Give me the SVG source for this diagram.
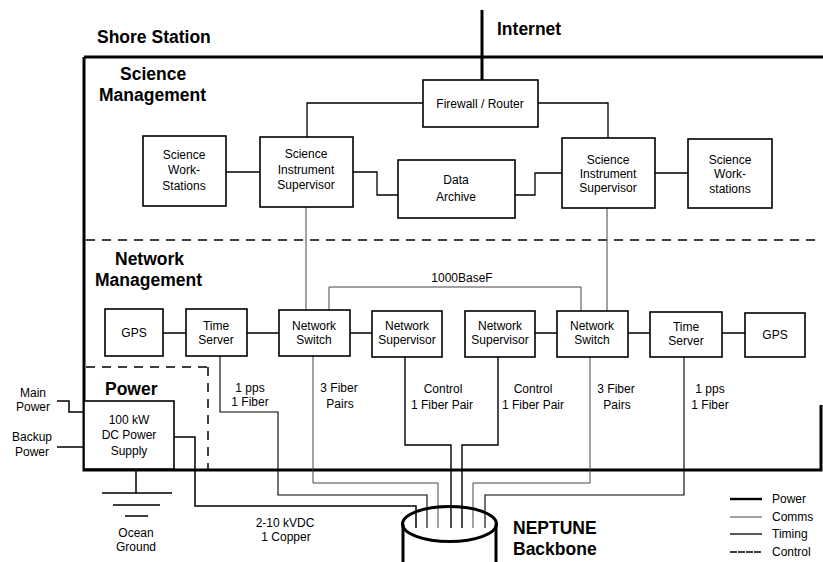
<svg xmlns="http://www.w3.org/2000/svg" width="823" height="562" viewBox="0 0 823 562">
<style>
text{font-family:"Liberation Sans",Arial,sans-serif;fill:#000}
.t{font-size:12px;text-anchor:middle}
.l{font-size:12px}
.h{font-size:17.5px;font-weight:bold}
.box{fill:#fff;stroke:#000;stroke-width:1.6}
.frame{fill:none;stroke:#000;stroke-width:3}
.sep{fill:none;stroke:#000;stroke-width:1.5;stroke-dasharray:9 7}
.link{fill:none;stroke:#000;stroke-width:1.3}
.power{fill:none;stroke:#000;stroke-width:1.5}
.comms{fill:none;stroke:#444;stroke-width:1}
.timing{fill:none;stroke:#000;stroke-width:1.1}
.control{fill:none;stroke:#000;stroke-width:1.4}
</style>
<rect width="823" height="562" fill="#fff"/>

<g id="frame">
<path class="frame" d="M84,57 H823 M84,57 V470 H821 V405"/>
<path class="frame" d="M482,10 V80"/>
<path class="sep" d="M86,240 H818"/>
<path class="sep" d="M86,367 H210 M208,367 V470"/>
<text class="h" x="97" y="43">Shore Station</text>
<text class="h" x="497" y="35">Internet</text>
<text class="h" x="120" y="80">Science</text>
<text class="h" x="99" y="101">Management</text>
<text class="h" x="115" y="265">Network</text>
<text class="h" x="95" y="286">Management</text>
<text class="h" x="105" y="395">Power</text>
</g>

<g id="connectors">
<path class="link" d="M423,103 H307 V137"/>
<path class="link" d="M538,103 H608 V138"/>
<path class="link" d="M226,172 H260"/>
<path class="link" d="M353,172 H377 V195 H398"/>
<path class="link" d="M515,195 H535 V173 H562"/>
<path class="link" d="M655,173 H688"/>
<path class="comms" d="M306,207 V310"/>
<path class="comms" d="M607,208 V311"/>
<path class="comms" d="M329,310 V287 H581 V311"/>
<path class="link" d="M163,333 H186 M247,333 H279 M350,333 H372 M535,333 H557 M628,333 H650 M722,333 H745"/>
<path class="timing" d="M220,356 V412 H278 V495 H427 V528"/>
<path class="comms" d="M313,356 V483 H438 V528"/>
<path class="power" d="M174,437 H195 V506 H416 V528"/>
<path class="control" d="M405,356 V445 H451 V528"/>
<path class="control" d="M498,357 V445 H462 V528"/>
<path class="comms" d="M590,357 V483 H473 V528"/>
<path class="timing" d="M684,357 V495 H485 V528"/>
<path class="power" d="M57,401 H69 V412 H84"/>
<path class="power" d="M57,447 H84"/>
<path class="power" d="M136,470 V493 M102,493 H172 M113,505 H160 M125,516 H148"/>
<text class="t" x="462" y="282">1000BaseF</text>
<text class="t" x="250" y="392">1 pps</text>
<text class="t" x="250" y="406">1 Fiber</text>
<text class="t" x="339" y="392">3 Fiber</text>
<text class="t" x="340" y="408">Pairs</text>
<text class="t" x="443" y="393">Control</text>
<text class="t" x="442" y="409">1 Fiber Pair</text>
<text class="t" x="533" y="393">Control</text>
<text class="t" x="533" y="409">1 Fiber Pair</text>
<text class="t" x="616" y="393">3 Fiber</text>
<text class="t" x="617" y="409">Pairs</text>
<text class="t" x="710" y="393">1 pps</text>
<text class="t" x="710" y="409">1 Fiber</text>
<text class="t" x="285" y="527">2-10 kVDC</text>
<text class="t" x="286" y="541">1 Copper</text>
<text class="t" x="33" y="397">Main</text>
<text class="t" x="33" y="411">Power</text>
<text class="t" x="32" y="441">Backup</text>
<text class="t" x="32" y="456">Power</text>
<text class="t" x="136" y="537">Ocean</text>
<text class="t" x="136" y="551">Ground</text>
</g>

<g id="firewall"><rect class="box" x="423" y="80" width="115" height="47"/><text class="t" x="480" y="108">Firewall / Router</text></g>
<g id="sws-left"><rect class="box" x="143" y="136" width="83" height="70"/><text class="t" x="184" y="159">Science</text><text class="t" x="184" y="174">Work-</text><text class="t" x="184" y="190">Stations</text></g>
<g id="sis-left"><rect class="box" x="260" y="137" width="93" height="70"/><text class="t" x="306" y="158">Science</text><text class="t" x="306" y="174">Instrument</text><text class="t" x="306" y="189">Supervisor</text></g>
<g id="archive"><rect class="box" x="398" y="160" width="117" height="58"/><text class="t" x="456" y="184">Data</text><text class="t" x="456" y="201">Archive</text></g>
<g id="sis-right"><rect class="box" x="562" y="138" width="93" height="70"/><text class="t" x="608" y="164">Science</text><text class="t" x="608" y="178">Instrument</text><text class="t" x="608" y="192">Supervisor</text></g>
<g id="sws-right"><rect class="box" x="688" y="139" width="84" height="69"/><text class="t" x="730" y="164">Science</text><text class="t" x="730" y="178">Work-</text><text class="t" x="730" y="193">stations</text></g>

<g id="gps-left"><rect class="box" x="105" y="309" width="58" height="47"/><text class="t" x="134" y="337">GPS</text></g>
<g id="time-left"><rect class="box" x="186" y="309" width="61" height="47"/><text class="t" x="216" y="330">Time</text><text class="t" x="216" y="344">Server</text></g>
<g id="switch-left"><rect class="box" x="279" y="310" width="71" height="46"/><text class="t" x="314" y="330">Network</text><text class="t" x="314" y="344">Switch</text></g>
<g id="sup-left"><rect class="box" x="372" y="311" width="70" height="46"/><text class="t" x="407" y="330">Network</text><text class="t" x="407" y="344">Supervisor</text></g>
<g id="sup-right"><rect class="box" x="465" y="311" width="70" height="46"/><text class="t" x="500" y="330">Network</text><text class="t" x="500" y="344">Supervisor</text></g>
<g id="switch-right"><rect class="box" x="557" y="311" width="71" height="46"/><text class="t" x="592" y="330">Network</text><text class="t" x="592" y="344">Switch</text></g>
<g id="time-right"><rect class="box" x="650" y="312" width="72" height="45"/><text class="t" x="686" y="331">Time</text><text class="t" x="686" y="345">Server</text></g>
<g id="gps-right"><rect class="box" x="745" y="313" width="60" height="44"/><text class="t" x="775" y="339">GPS</text></g>

<g id="dc-power"><rect class="box" x="84" y="401" width="90" height="68"/><text class="t" x="129" y="424">100 kW</text><text class="t" x="129" y="439">DC Power</text><text class="t" x="129" y="455">Supply</text></g>

<g id="neptune">
<ellipse cx="449.5" cy="524" rx="47" ry="17.5" fill="none" stroke="#000" stroke-width="3"/>
<path d="M403,524 V562 M496,524 V562" fill="none" stroke="#000" stroke-width="3"/>
<text class="h" x="513" y="534">NEPTUNE</text>
<text class="h" x="513" y="555">Backbone</text>
</g>

<g id="legend">
<path d="M730,499 H762" stroke="#000" stroke-width="2.4"/>
<path d="M730,517 H762" stroke="#444" stroke-width="1"/>
<path d="M730,534 H762" stroke="#000" stroke-width="1.3"/>
<path d="M730,552 H762" stroke="#000" stroke-width="1.6" stroke-dasharray="7 1"/>
<text class="l" x="772" y="503">Power</text>
<text class="l" x="772" y="521">Comms</text>
<text class="l" x="772" y="538">Timing</text>
<text class="l" x="772" y="556">Control</text>
</g>
</svg>
